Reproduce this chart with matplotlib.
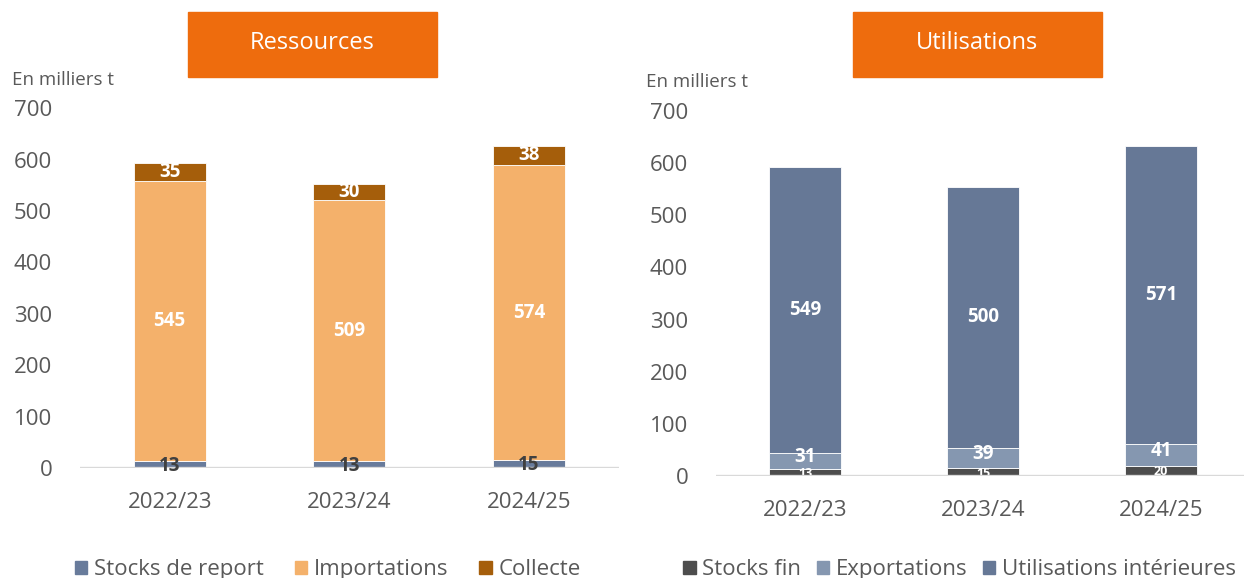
import numpy as np
import matplotlib
matplotlib.use("Agg")
import matplotlib.pyplot as plt
from matplotlib.patches import Patch

plt.rcParams["font.family"] = ["Open Sans", "DejaVu Sans"]

# ---- data (milliers de tonnes)
campagnes = ["2022/23", "2023/24", "2024/25"]

stocks_report = [13, 13, 15]
importations = [545, 509, 574]
collecte = [35, 30, 38]

stocks_fin = [13, 15, 20]
exportations = [31, 39, 41]
utilisations_int = [549, 500, 571]

GREY_TXT = "#595959"
ORANGE = "#EE6C0D"

fig = plt.figure(figsize=(12.44, 5.78), dpi=100)


def stacked(ax, series, colors, labels, label_styles, width):
    x = np.arange(len(campagnes))
    bottom = np.zeros(len(campagnes))
    for vals, col, lab, sty in zip(series, colors, labels, label_styles):
        vals = np.asarray(vals, float)
        sty = dict(sty)
        dy = sty.pop("dy", 0)
        ax.bar(x, vals, width, bottom=bottom, color=col, edgecolor="white",
               linewidth=0.6, label=lab, zorder=2)
        for xi, b, v in zip(x, bottom, vals):
            ax.text(xi, b + v / 2 + dy, f"{v:.0f}", ha="center", va="center",
                    fontweight="bold", **sty)
        bottom += vals
    ax.set_xticks(x, campagnes)
    ax.set_xlim(-0.5, 2.5)
    ax.set_ylim(0, 700)
    ax.set_yticks(range(0, 701, 100))
    for s in ax.spines.values():
        s.set_visible(False)
    ax.axhline(0, color="#D9D9D9", lw=2.4, zorder=3)
    ax.tick_params(axis="both", length=0, labelsize=16, colors=GREY_TXT)
    ax.tick_params(axis="y", pad=20)
    ax.tick_params(axis="x", pad=17)


def title_box(x0, x1, text):
    y0, y1 = 1 - 77 / 578, 1 - 12 / 578
    fig.patches.append(plt.Rectangle((x0 / 1244, y0), (x1 - x0) / 1244, y1 - y0,
                                     transform=fig.transFigure, color=ORANGE, zorder=0))
    fig.text((x0 + x1) / 2 / 1244, (y0 + y1) / 2 + 0.002, text, color="white",
             fontsize=17, ha="center", va="center")


# ---- Ressources
ax1 = fig.add_axes([80 / 1244, 1 - 468 / 578, 538.5 / 1244, 359.8 / 578])
cols1 = ["#687B9B", "#F4B16B", "#A55E0B"]
labs1 = ["Stocks de report", "Importations", "Collecte"]
sty1 = [dict(color="#404040", fontsize=13.5, zorder=4, dy=-2),
        dict(color="white", fontsize=13.5, zorder=4),
        dict(color="white", fontsize=13.5, zorder=4)]
stacked(ax1, [stocks_report, importations, collecte], cols1, labs1, sty1, 0.4)
ax1.legend(handles=[Patch(color=c, label=l) for c, l in zip(cols1, labs1)],
           loc="center", bbox_to_anchor=(0.46, -0.283), ncol=3, frameon=False,
           fontsize=16, labelcolor=GREY_TXT, handlelength=0.55, handleheight=0.55,
           handletextpad=0.3, columnspacing=1.4)

# ---- Utilisations
ax2 = fig.add_axes([716 / 1244, 1 - 476 / 578, 534 / 1244, 365 / 578])
cols2 = ["#4D4D4D", "#8597B0", "#667896"]
labs2 = ["Stocks fin", "Exportations", "Utilisations intérieures"]
sty2 = [dict(color="white", fontsize=9, zorder=2.5, dy=-2),
        dict(color="white", fontsize=13.5, zorder=4, dy=8),
        dict(color="white", fontsize=13.5, zorder=4)]
stacked(ax2, [stocks_fin, exportations, utilisations_int], cols2, labs2, sty2, 0.4)
ax2.legend(handles=[Patch(color=c, label=l) for c, l in zip(cols2, labs2)],
           loc="center", bbox_to_anchor=(0.456, -0.257), ncol=3, frameon=False,
           fontsize=16, labelcolor=GREY_TXT, handlelength=0.55, handleheight=0.55,
           handletextpad=0.3, columnspacing=0.7)

title_box(188, 437, "Ressources")
title_box(853, 1102, "Utilisations")
fig.text(12 / 1244, 1 - 80 / 578, "En milliers t", fontsize=13.5, color=GREY_TXT, va="center")
fig.text(646 / 1244, 1 - 82 / 578, "En milliers t", fontsize=13.5, color=GREY_TXT, va="center")

fig.savefig("out.png", dpi=100)
